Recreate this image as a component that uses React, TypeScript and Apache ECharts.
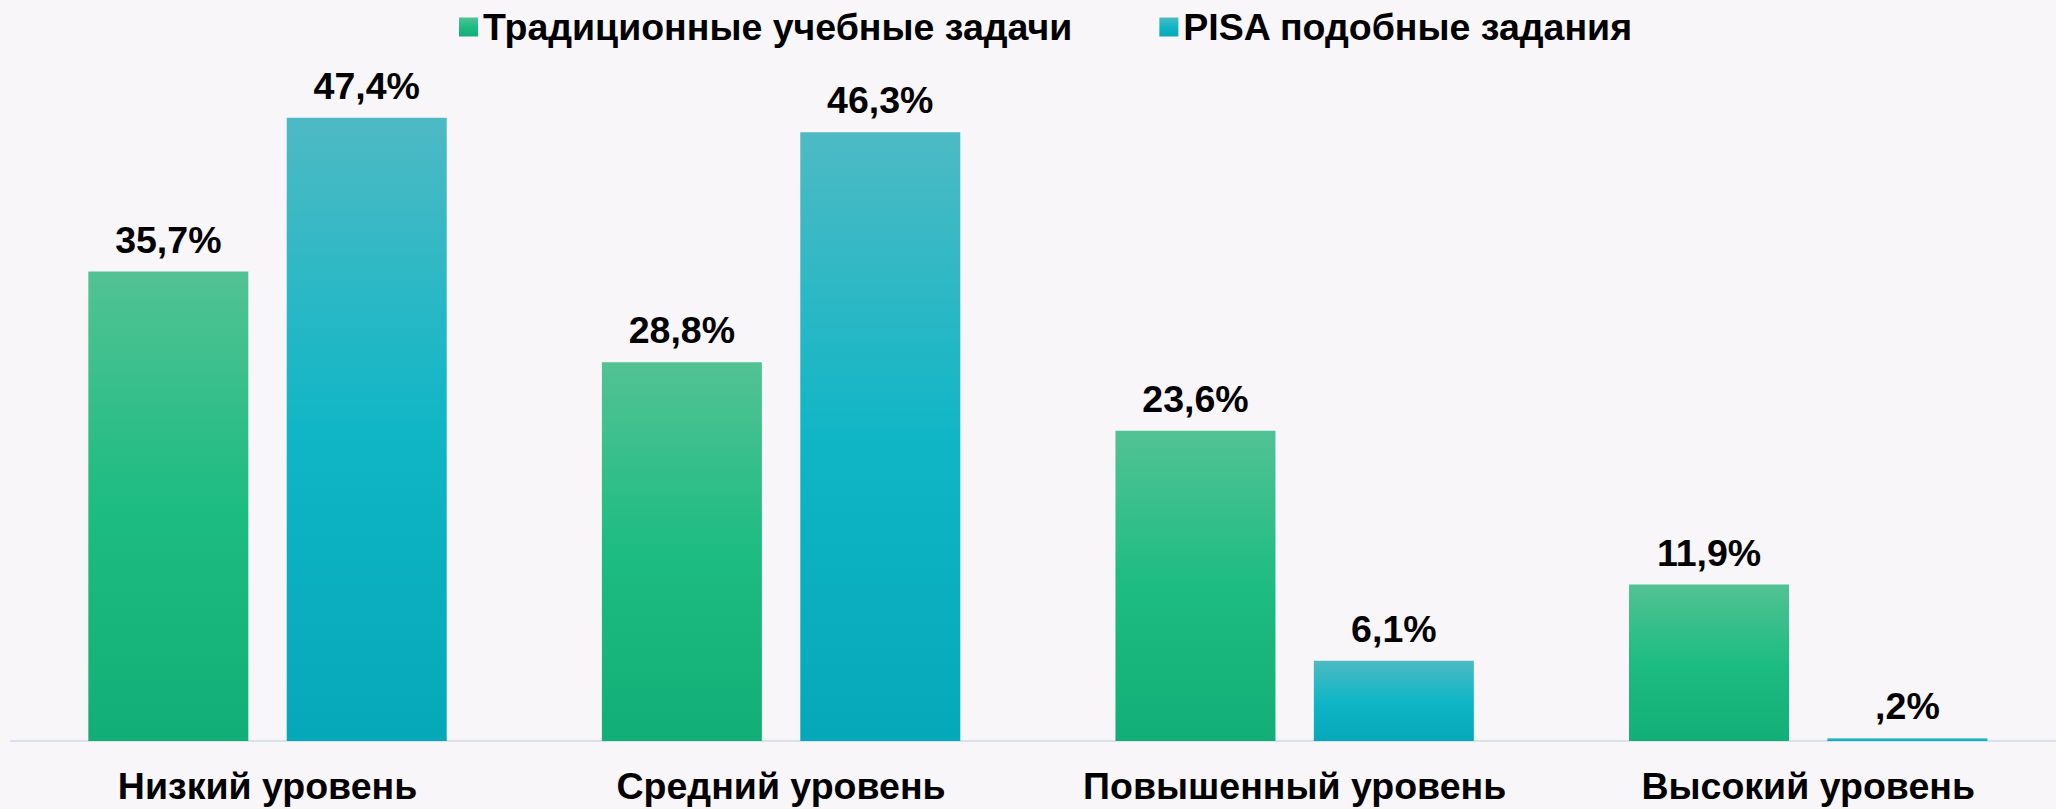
import React, { useEffect, useRef } from "react";
import * as echarts from "echarts";

const categories = ["Низкий уровень", "Средний уровень", "Повышенный уровень", "Высокий уровень"];
const seriesNames = ["Традиционные учебные задачи", "PISA подобные задания"];
const traditionalValues = [35.7, 28.8, 23.6, 11.9];
const pisaValues = [47.4, 46.3, 6.1, 0.2];

const FONT = "'Liberation Sans', Arial, sans-serif";

function fmt(v: number): string {
  let s = v.toFixed(1).replace(".", ",");
  if (s.startsWith("0,")) s = s.slice(1);
  return s + "%";
}

function grad(top: string, mid: string, bottom: string) {
  return new echarts.graphic.LinearGradient(0, 0, 0, 1, [
    { offset: 0, color: top },
    { offset: 0.5, color: mid },
    { offset: 1, color: bottom },
  ]);
}

export default function App() {
  const ref = useRef<HTMLDivElement>(null);
  useEffect(() => {
    document.body.style.margin = "0";
    document.body.style.overflow = "hidden";
    document.documentElement.style.overflow = "hidden";
    document.body.style.background = "#f8f6f8";
    if (!ref.current) return;
    const chart = echarts.init(ref.current, undefined, { renderer: "svg" });
    const label = {
      show: true,
      position: "top" as const,
      distance: 13,
      fontFamily: FONT,
      fontWeight: "bold" as const,
      fontSize: 37.5,
      color: "#000",
      formatter: (p: any) => fmt(p.value),
    };
    chart.setOption({
      animation: false,
      backgroundColor: "#f8f6f8",
      legend: {
        top: 3,
        left: 454,
        itemWidth: 19,
        itemHeight: 19,
        itemGap: 87,
        icon: "rect",
        textStyle: { fontFamily: FONT, fontWeight: "bold", fontSize: 37.5, color: "#000" },
        data: seriesNames,
      },
      grid: { left: 10.75, right: 0, top: 83.5, bottom: 68 },
      xAxis: {
        type: "category",
        data: categories,
        axisLine: { show: true, lineStyle: { color: "#d9e1ea", width: 2 } },
        axisTick: { show: false },
        axisLabel: {
          margin: 26,
          fontFamily: FONT,
          fontWeight: "bold",
          fontSize: 37.5,
          color: "#000",
          interval: 0,
        },
      },
      yAxis: { type: "value", min: 0, max: 50, show: false, splitLine: { show: false } },
      series: [
        {
          name: seriesNames[0],
          type: "bar",
          data: traditionalValues,
          barWidth: 160,
          barGap: "24%",
          itemStyle: { color: grad("#52c294", "#1dbc82", "#12ae77") },
          label,
        },
        {
          name: seriesNames[1],
          type: "bar",
          data: pisaValues,
          barWidth: 160,
          barGap: "24%",
          itemStyle: { color: grad("#4dbac4", "#10b6c6", "#05a8b8") },
          label,
        },
      ],
    });
    return () => chart.dispose();
  }, []);
  return <div ref={ref} style={{ width: 2065, height: 809 }} />;
}
